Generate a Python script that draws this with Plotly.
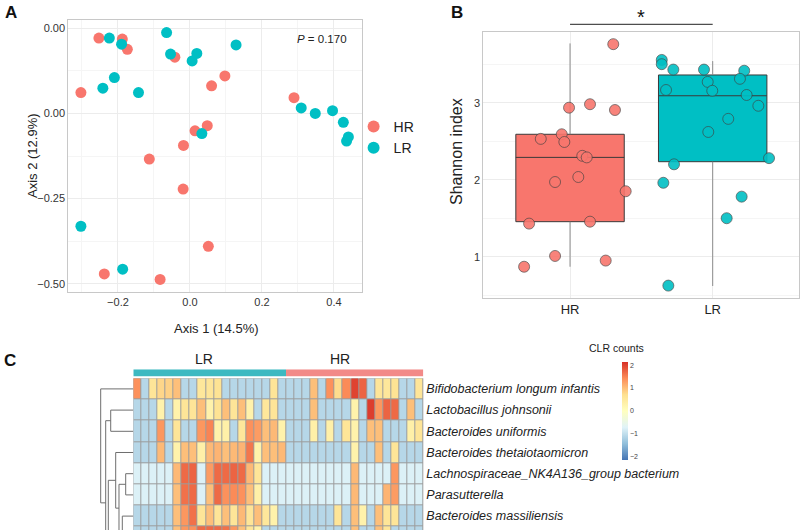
import plotly.graph_objects as go

FONT = "Liberation Sans, Arial, Helvetica, sans-serif"
HR_COL = "#F8766D"
LR_COL = "#00BFC4"

# ---------------- Panel A: PCoA ----------------
hr_axis1 = [-0.253, -0.188, -0.174, -0.042, 0.097, 0.060, -0.303, 0.289, 0.014, 0.048,
            -0.018, -0.113, -0.019, 0.051, -0.238, -0.083]
hr_axis2 = [0.221, 0.218, 0.188, 0.165, 0.110, 0.081, 0.061, 0.046, -0.051, -0.036,
            -0.094, -0.134, -0.222, -0.390, -0.471, -0.487]
lr_axis1 = [-0.224, -0.190, -0.065, -0.054, 0.006, 0.019, 0.128, -0.210, -0.242, -0.143,
            0.309, 0.348, 0.396, 0.426, 0.440, 0.435, 0.033, -0.303, -0.187]
lr_axis2 = [0.221, 0.203, 0.237, 0.174, 0.154, 0.176, 0.201, 0.105, 0.074, 0.061,
            0.016, 0.000, 0.008, -0.026, -0.069, -0.081, -0.059, -0.331, -0.457]
a_xticks = [-0.2, 0.0, 0.2, 0.4]
a_xticklabels = ["\u22120.2", "0.0", "0.2", "0.4"]
a_yticks = [0.25, 0.0, -0.25, -0.5]
a_yticklabels = ["0.00", "0.00", "\u22120.25", "\u22120.50"]
p_value_text = "<i>P</i> = 0.170"

# ---------------- Panel B: Shannon ----------------
groups = ["HR", "LR"]
hr_shannon = [3.76, 2.935, 2.98, 2.905, 2.59, 2.53, 2.49, 2.31, 2.29, 2.035, 1.97, 1.85,
              1.43, 1.455, 1.01, 0.95, 0.87]
hr_jitter = [0.303, -0.007, 0.140, 0.315, -0.058, -0.205, -0.040, 0.086, 0.117, 0.058,
             -0.105, 0.390, -0.287, 0.140, -0.105, 0.250, -0.322]
lr_shannon = [3.555, 3.50, 3.43, 3.43, 3.415, 3.31, 3.27, 3.165, 3.155, 3.10, 2.96, 2.79,
              2.62, 2.28, 2.20, 1.96, 1.78, 1.50, 0.625]
lr_jitter = [-0.357, -0.357, -0.276, -0.061, 0.221, 0.191, -0.035, -0.327, -0.003, 0.238,
             0.320, 0.109, -0.031, 0.395, -0.271, -0.346, 0.203, 0.098, -0.311]
box_q1 = [1.455, 2.234]
box_median = [2.29, 3.09]
box_q3 = [2.59, 3.36]
whisker_low = [0.87, 0.62]
whisker_high = [3.77, 3.54]
b_yticks = [1, 2, 3]

# ---------------- Panel C: heatmap ----------------
col_groups = ["LR"] * 19 + ["HR"] * 17
taxa = ["Bifidobacterium longum infantis", "Lactobacillus johnsonii", "Bacteroides uniformis",
        "Bacteroides thetaiotaomicron", "Lachnospiraceae_NK4A136_group bacterium",
        "Parasutterella", "Bacteroides massiliensis"]
clr_bifido = [1.4, -1.1, 0.6, 0.8, 0.85, 1.0, -1.1, -1.1, 0.55, 0.6, 0.65, -1.1, -1.1, -1.1, -1.1, -1.1, -1.1, 0.6, -1.1,
              -1.1, -1.1, -1.1, 1.0, -1.1, 1.4, 0.75, 1.45, 2.0, 1.75, -1.1, 0.6, 0.55, 0.65, -1.1, -1.1, 0.6]
clr_lacto = [-1.1, -1.1, -1.1, 0.3, -1.1, 0.3, 0.6, 0.6, 1.0, 0.3, 0.65, 1.0, 0.6, 1.0, 0.3, -1.1, 0.55, 0.6, -1.1,
             -1.1, -1.1, -1.1, 1.0, -1.1, -1.1, -1.1, -1.1, 0.3, -1.1, 2.05, 1.35, 1.75, 1.7, -1.1, 1.0, -1.1]
clr_uniformis = [-1.1, -1.1, -1.1, 1.35, -1.1, 0.6, -1.1, -1.1, 1.35, 1.5, 0.3, 0.35, -1.1, 0.55, 1.4, 1.3, 1.0, 1.05, 0.3,
                 -1.1, -1.1, -1.1, 0.35, -1.1, 0.35, -1.1, 0.6, 0.3, -1.1, 1.0, 1.0, -1.1, -1.1, -1.1, 0.35, 0.6]
clr_theta = [-1.1, -1.1, -1.1, 1.05, -1.1, 0.3, 1.0, 1.0, 0.35, 1.05, 1.1, 1.0, 1.05, 1.1, 1.6, 0.3, 1.0, 1.0, 1.05,
             -1.1, -1.1, -1.1, -1.1, -1.1, -1.1, -1.1, -1.1, 0.3, -1.1, -1.1, 1.0, -1.1, 0.6, -1.1, -1.1, -1.1]
clr_lachno = [-0.75, -0.75, -0.75, -0.75, -0.75, 1.05, 1.7, 1.75, -0.75, 1.3, 1.7, 1.7, 1.75, 1.7, 1.05, 0.6, -0.75, -0.75, -0.75,
              -0.75, -0.75, -0.75, -0.75, -0.75, -0.75, -0.75, -0.75, 1.05, -0.75, -0.75, -0.75, -0.75, 1.35, -0.75, -0.75, -0.75]
clr_parasut = [-0.75, -0.75, -0.75, -0.75, -0.75, 1.0, 1.65, 1.7, -0.75, 1.0, 1.7, 1.4, 1.45, 1.4, 1.0, 0.35, -0.75, -0.75, -0.75,
               -0.75, -0.75, -0.75, -0.75, -0.75, -0.75, -0.75, -0.75, 1.05, -0.75, -0.75, -0.75, 1.1, 1.3, -0.75, -0.75, -0.75]
clr_massil = [-1.1, -1.1, -1.1, -1.1, -1.1, 1.0, 1.35, 1.65, 0.6, 1.0, 0.6, 1.0, 0.6, 1.05, 0.6, 1.0, 0.55, 0.3, -1.1,
              -1.1, -1.1, -1.1, -1.1, -1.1, -1.1, 0.6, -1.1, 1.0, 0.3, -1.1, 1.0, 0.6, 0.6, -1.1, -1.1, -1.1]
clr_next = [-1.1, -1.1, -1.1, -1.1, -1.1, 1.0, 1.35, 1.4, 1.7, 1.7, 1.7, 1.65, 1.35, 1.0, 0.6, 0.3, -1.1, -1.1, -1.1,
            -1.1, -1.1, -1.1, -1.1, -1.1, -1.1, -1.1, -1.1, 1.0, -1.1, -1.1, 1.0, 0.6, -1.1, -1.1, -1.1, -1.1]
heat_rows = [clr_bifido, clr_lacto, clr_uniformis, clr_theta, clr_lachno, clr_parasut, clr_massil, clr_next]
clr_ticks = [-2, -1, 0, 1, 2]
clr_ticklabels = ["\u22122", "\u22121", "0", "1", "2"]

# row dendrogram: (left child, right child, merge height); ints = leaf rows, "mK" = K-th merge
dendro_merges = [
    (1, 2, 0.693), (4, 5, 0.233), (7, 8, 0.15), (6, "m2", 0.337), ("m1", "m3", 0.439),
    (3, "m4", 0.54), (9, 10, 0.30), ("m6", 11, 0.40), (12, 13, 0.25), ("m7", "m8", 0.50),
    (14, 15, 0.20), (16, 17, 0.30), ("m10", "m11", 0.45), (18, 19, 0.35), ("m12", "m13", 0.55),
    ("m9", "m14", 0.644), ("m5", "m15", 0.767), ("m0", "m16", 0.847), (0, "m17", 1.0),
]

fig = go.Figure()

# ---- Panel A traces
fig.add_trace(go.Scatter(x=hr_axis1, y=hr_axis2, mode="markers", name="HR",
                         marker=dict(color=HR_COL, size=11), xaxis="x", yaxis="y"))
fig.add_trace(go.Scatter(x=lr_axis1, y=lr_axis2, mode="markers", name="LR",
                         marker=dict(color=LR_COL, size=11), xaxis="x", yaxis="y"))

# ---- Panel B traces
gpos = {g: i + 1 for i, g in enumerate(groups)}
for i, g in enumerate(groups):
    fig.add_trace(go.Scatter(x=[gpos[g], gpos[g], None, gpos[g], gpos[g]],
                             y=[whisker_low[i], box_q1[i], None, box_q3[i], whisker_high[i]], mode="lines",
                             line=dict(color="#8c8c8c", width=1), showlegend=False,
                             xaxis="x2", yaxis="y2", hoverinfo="skip"))
for i, (g, col) in enumerate(zip(groups, [HR_COL, LR_COL])):
    fig.add_trace(go.Box(x=[gpos[g]], q1=[box_q1[i]], median=[box_median[i]], q3=[box_q3[i]],
                         lowerfence=[box_q1[i]], upperfence=[box_q3[i]], width=0.76,
                         fillcolor=col, line=dict(color="#3a3a3a", width=1), whiskerwidth=0,
                         boxpoints=False, showlegend=False, xaxis="x2", yaxis="y2"))
for g, vals, jit, col in [("HR", hr_shannon, hr_jitter, HR_COL), ("LR", lr_shannon, lr_jitter, LR_COL)]:
    fig.add_trace(go.Scatter(x=[gpos[g] + j for j in jit], y=vals, mode="markers",
                             marker=dict(color=col, size=11, opacity=0.9,
                                         line=dict(color="#404040", width=0.7)),
                             showlegend=False, xaxis="x2", yaxis="y2"))

# ---- Panel C traces
ann_z = [[0 if g == "LR" else 1 for g in col_groups]]
fig.add_trace(go.Heatmap(z=ann_z, x=list(range(len(col_groups))), y=[0],
                         colorscale=[[0, "#3DB9C1"], [0.5, "#3DB9C1"], [0.5, "#F28A88"], [1, "#F28A88"]],
                         zmin=0, zmax=1, showscale=False, xaxis="x3", yaxis="y4", hoverinfo="skip"))
rdylbu_r = ["#4575B4", "#91BFDB", "#E0F3F8", "#FFFFBF", "#FEE090", "#FC8D59", "#D73027"]
fig.add_trace(go.Heatmap(z=heat_rows, x=list(range(len(col_groups))), y=list(range(len(heat_rows))),
                         colorscale=[[i / 6, c] for i, c in enumerate(rdylbu_r)],
                         zmin=-2.15, zmax=2.15, xgap=1, ygap=1, xaxis="x3", yaxis="y3",
                         colorbar=dict(thickness=6, len=98, lenmode="pixels", x=622 / 800, xanchor="left",
                                       y=1 - 361.7 / 530, yanchor="top", xpad=0, ypad=0, outlinewidth=0,
                                       tickvals=clr_ticks, ticktext=clr_ticklabels, ticks="",
                                       tickfont=dict(size=7, color="#444", family=FONT))))

# dendrogram from merge list
centers, heights = {}, {}
def node(c):
    if isinstance(c, int):
        return float(c), 0.0
    return centers[c], heights[c]
dx, dy = [], []
for k, (l, r, h) in enumerate(dendro_merges):
    cl, hl = node(l)
    cr, hr_ = node(r)
    dx += [hl, h, h, hr_, None]
    dy += [cl, cl, cr, cr, None]
    centers["m%d" % k] = (cl + cr) / 2
    heights["m%d" % k] = h
fig.add_trace(go.Scatter(x=dx, y=dy, mode="lines", line=dict(color="#6e6e6e", width=1),
                         showlegend=False, xaxis="x4", yaxis="y3", hoverinfo="skip"))

axis_common = dict(showline=True, mirror=True, linecolor="#c8c8c8", linewidth=1, zeroline=False,
                   ticks="", gridcolor="#ececec", gridwidth=1,
                   tickfont=dict(size=11, color="#333", family=FONT))
hidden = dict(visible=False, showgrid=False, zeroline=False)

n_rows_visible = 151.7 / 21.2

fig.update_layout(
    width=800, height=530, margin=dict(l=0, r=0, t=0, b=0),
    paper_bgcolor="white", plot_bgcolor="white",
    font=dict(family=FONT, color="#222"),
    showlegend=True,
    legend=dict(x=0.442, y=1 - 111 / 530, xanchor="left", yanchor="top", itemsizing="constant",
                font=dict(size=14, family=FONT, color="#222"), bgcolor="rgba(0,0,0,0)",
                tracegroupgap=0, itemwidth=30),
    xaxis=dict(domain=[68.3 / 800, 361.7 / 800], anchor="y", range=[-0.338, 0.477],
               tickvals=a_xticks, ticktext=a_xticklabels,
               minor=dict(tickvals=[-0.3, -0.1, 0.1, 0.3], showgrid=True, gridcolor="#f5f5f5"),
               **axis_common),
    yaxis=dict(domain=[1 - 291.7 / 530, 1 - 20 / 530], anchor="x", range=[-0.523, 0.274],
               tickvals=a_yticks, ticktext=a_yticklabels,
               minor=dict(tickvals=[0.125, -0.125, -0.375], showgrid=True, gridcolor="#f5f5f5"),
               **axis_common),
    xaxis2=dict(domain=[483.3 / 800, 799 / 800], anchor="y2", range=[0.392, 2.605],
                tickvals=[gpos[g] for g in groups], ticktext=groups,
                **{**axis_common, "tickfont": dict(size=13, color="#222", family=FONT)}),
    yaxis2=dict(domain=[1 - 297.7 / 530, 1 - 32.3 / 530], anchor="x2", range=[0.468, 3.914],
                tickvals=b_yticks,
                minor=dict(tickvals=[0.5, 1.5, 2.5, 3.5], showgrid=True, gridcolor="#f5f5f5"),
                **axis_common),
    xaxis3=dict(domain=[133.3 / 800, 423.3 / 800], anchor="y3", range=[-0.5, len(col_groups) - 0.5],
                **hidden),
    yaxis3=dict(domain=[0, 1 - 378.3 / 530], anchor="x3", range=[n_rows_visible - 0.5, -0.5],
                side="right", showgrid=False, zeroline=False, showline=False, ticks="",
                tickvals=list(range(len(taxa))), ticktext=["<i>%s</i>" % t for t in taxa],
                tickfont=dict(size=12.5, color="#222", family=FONT), ticklabelstandoff=2),
    xaxis4=dict(domain=[40 / 800, 133.3 / 800], anchor="y3", range=[93.3 / 32.6, 0], **hidden),
    yaxis4=dict(domain=[1 - 376.7 / 530, 1 - 369.3 / 530], anchor="x3", range=[-0.5, 0.5], **hidden),
    shapes=[
        dict(type="rect", xref="x3 domain", yref="y3 domain", x0=0, x1=1, y0=0, y1=1,
             fillcolor="#9c9c9c", line=dict(width=0), layer="below"),
        dict(type="line", xref="x2", yref="paper", x0=gpos["HR"], x1=gpos["LR"],
             y0=1 - 24.3 / 530, y1=1 - 24.3 / 530, line=dict(color="#222", width=1)),
    ],
    annotations=[
        dict(text="<b>A</b>", x=3 / 800, y=1 - 1 / 530, xref="paper", yref="paper", xanchor="left",
             yanchor="top", showarrow=False, font=dict(size=17, family=FONT, color="#111")),
        dict(text="<b>B</b>", x=449 / 800, y=1 - 1 / 530, xref="paper", yref="paper", xanchor="left",
             yanchor="top", showarrow=False, font=dict(size=17, family=FONT, color="#111")),
        dict(text="<b>C</b>", x=2 / 800, y=1 - 349 / 530, xref="paper", yref="paper", xanchor="left",
             yanchor="top", showarrow=False, font=dict(size=17, family=FONT, color="#111")),
        dict(text=p_value_text, x=295 / 800, y=1 - 38.7 / 530, xref="paper", yref="paper",
             xanchor="left", yanchor="middle", showarrow=False, font=dict(size=11.5, family=FONT, color="#222")),
        dict(text="Axis 1 (14.5%)", x=216 / 800, y=1 - 328 / 530, xref="paper", yref="paper",
             xanchor="center", yanchor="middle", showarrow=False, font=dict(size=13, family=FONT, color="#222")),
        dict(text="Axis 2 (12.9%)", x=33 / 800, y=1 - 156 / 530, xref="paper", yref="paper",
             xanchor="center", yanchor="middle", textangle=-90, showarrow=False,
             font=dict(size=13, family=FONT, color="#222")),
        dict(text="Shannon index", x=457 / 800, y=1 - 152 / 530, xref="paper", yref="paper",
             xanchor="center", yanchor="middle", textangle=-90, showarrow=False,
             font=dict(size=16, family=FONT, color="#222")),
        dict(text="*", x=(gpos["HR"] + gpos["LR"]) / 2, y=1 - 17 / 530, xref="x2", yref="paper",
             xanchor="center", yanchor="middle", showarrow=False, font=dict(size=20, family=FONT, color="#111")),
        dict(text="LR", x=204 / 800, y=1 - 359 / 530, xref="paper", yref="paper", xanchor="center",
             yanchor="middle", showarrow=False, font=dict(size=14, family=FONT, color="#222")),
        dict(text="HR", x=340 / 800, y=1 - 359 / 530, xref="paper", yref="paper", xanchor="center",
             yanchor="middle", showarrow=False, font=dict(size=14, family=FONT, color="#222")),
        dict(text="CLR counts", x=616 / 800, y=1 - 348 / 530, xref="paper", yref="paper", xanchor="center",
             yanchor="middle", showarrow=False, font=dict(size=10.5, family=FONT, color="#222")),
    ],
)

fig.write_html("out.html")
